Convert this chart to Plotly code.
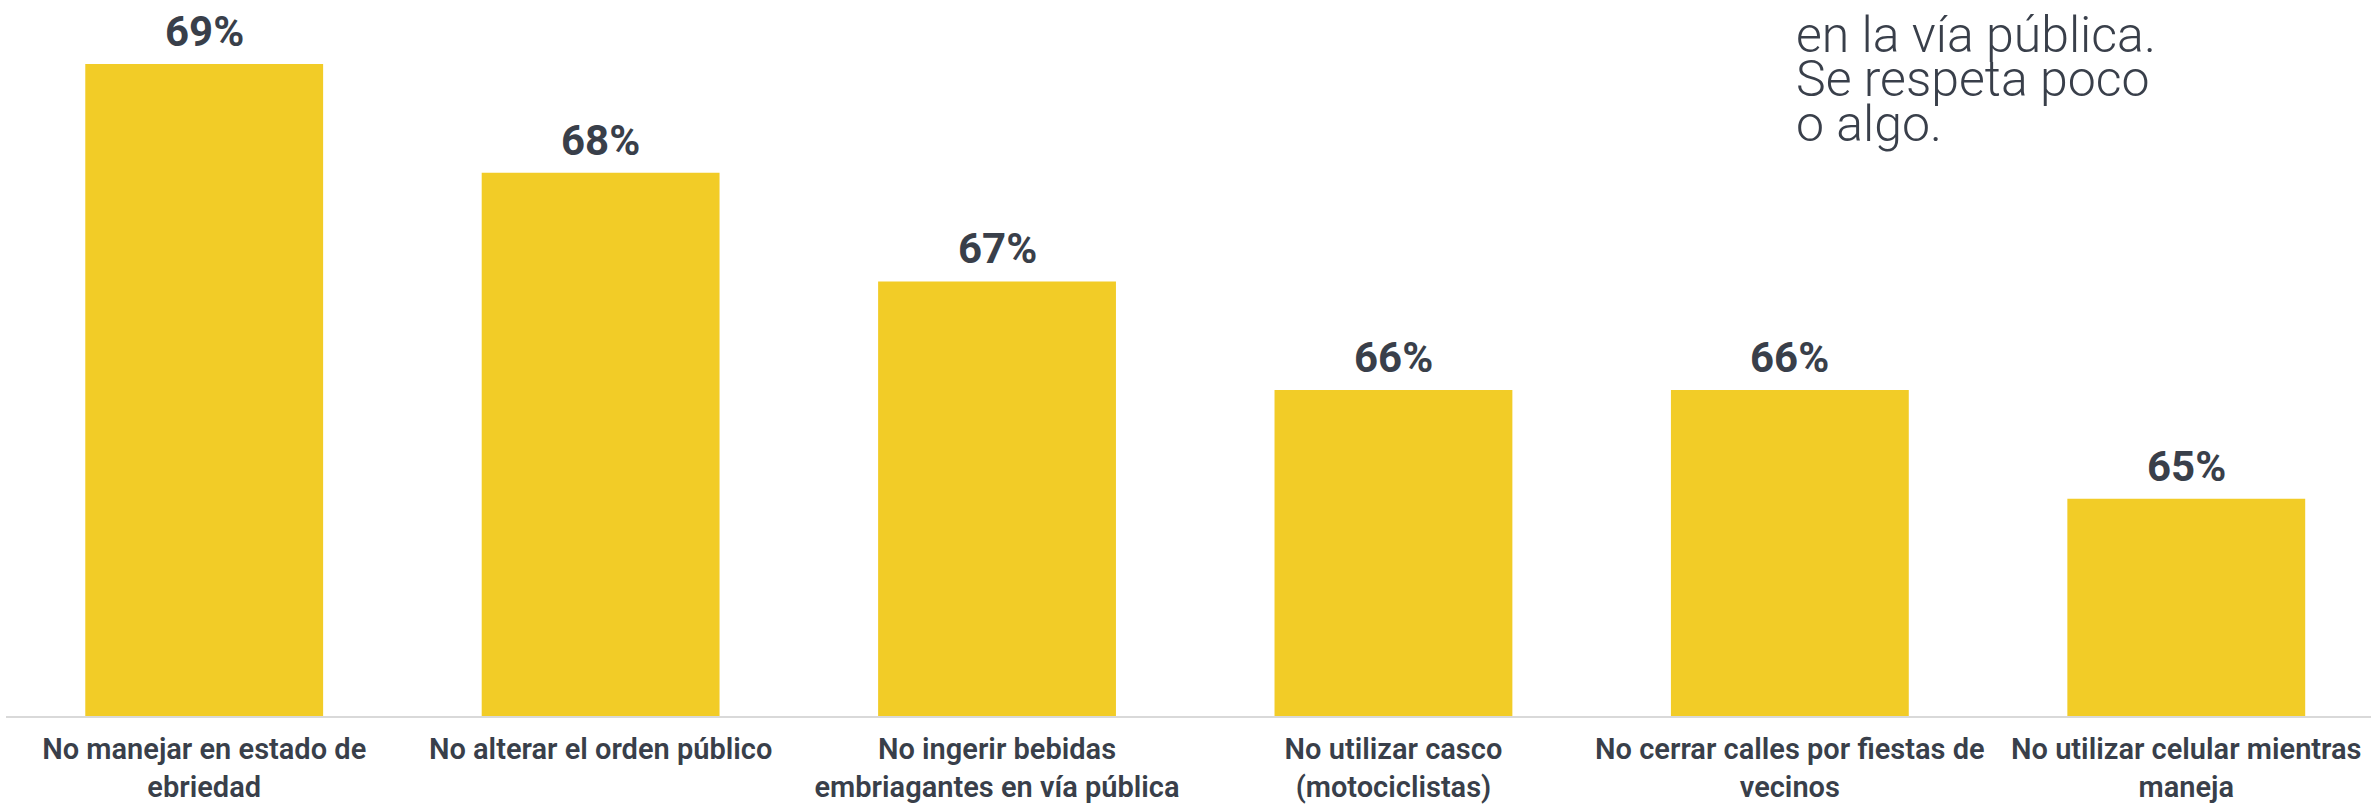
import plotly.graph_objects as go

categories = [
    "No manejar en estado de<br>ebriedad",
    "No alterar el orden público",
    "No ingerir bebidas<br>embriagantes en vía pública",
    "No utilizar casco<br>(motociclistas)",
    "No cerrar calles por fiestas de<br>vecinos",
    "No utilizar celular mientras<br>maneja",
]
values = [69, 68, 67, 66, 66, 65]
value_labels = ["69%", "68%", "67%", "66%", "66%", "65%"]
note_lines = ["en la vía pública.", "Se respeta poco", "o algo."]

YELLOW = "#F2CC27"
DARK = "#393F4A"

fig = go.Figure()
fig.add_trace(go.Bar(
    x=list(range(len(categories))),
    y=values,
    marker=dict(color=YELLOW, line=dict(width=0)),
    hoverinfo="skip",
))

for i, (v, lab) in enumerate(zip(values, value_labels)):
    fig.add_annotation(
        x=i, y=v, text=lab, showarrow=False, xref="x", yref="y",
        yanchor="bottom", yshift=6,
        font=dict(family="Roboto", size=42, color=DARK, weight=700),
    )

note_y = [39, 89, 140]
for line, yy in zip(note_lines, note_y):
    fig.add_annotation(
        x=1793 / 2371, y=1 - yy / 806, xref="paper", yref="paper",
        text=line, showarrow=False, xanchor="left", yanchor="middle",
        font=dict(family="Roboto", size=50, color=DARK, weight=300),
    )

fig.update_layout(
    width=2371, height=806,
    margin=dict(l=6, r=0, t=0, b=90, autoexpand=False),
    paper_bgcolor="white", plot_bgcolor="white",
    bargap=0.40,
    showlegend=False,
    xaxis=dict(
        range=[-0.5, 5.466],
        tickmode="array",
        tickvals=list(range(len(categories))),
        ticktext=categories,
        showline=True, linecolor="#D9D9D9", linewidth=2,
        showgrid=False, zeroline=False, ticks="",
        automargin=False,
        ticklabelstandoff=6,
        tickfont=dict(family="Roboto", size=29, color=DARK, weight=600),
    ),
    yaxis=dict(
        range=[63, 69.59],
        visible=False, showgrid=False, zeroline=False,
        automargin=False,
    ),
)

fig.write_html(
    "out.html",
    config={"displayModeBar": False},
    post_script="document.body.style.margin='0';document.body.style.overflow='hidden';",
)
